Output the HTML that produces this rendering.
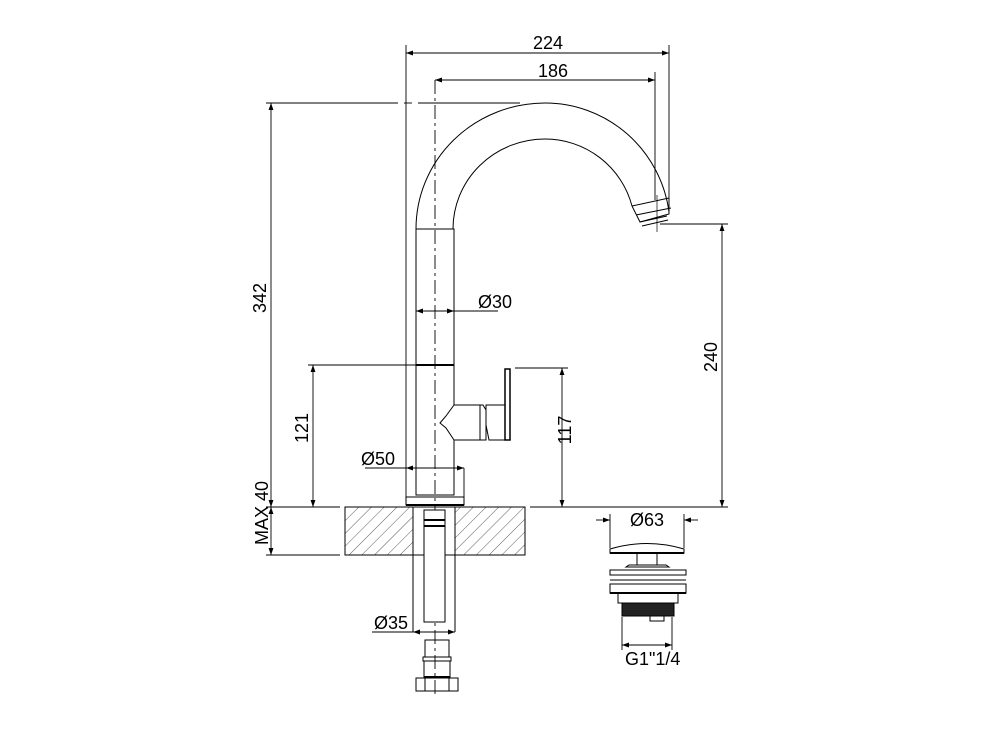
<!DOCTYPE html>
<html><head><style>html,body{margin:0;padding:0;background:#fff}svg{display:block}</style></head>
<body>
<svg width="1000" height="750" viewBox="0 0 1000 750" xmlns="http://www.w3.org/2000/svg" font-family="Liberation Sans, sans-serif">
<defs>
<marker id="a" viewBox="0 0 10 10" refX="10" refY="5" markerWidth="9" markerHeight="7" orient="auto-start-reverse" markerUnits="userSpaceOnUse"><path d="M0,1.5 L10,5 L0,8.5z" fill="#000"/></marker>
<pattern id="h" width="9" height="9" patternUnits="userSpaceOnUse" patternTransform="rotate(45)"><line x1="0" y1="0" x2="0" y2="9" stroke="#333" stroke-width="0.8"/></pattern>
</defs>
<g fill="none" stroke="#000" stroke-width="1">
<!-- spout arcs -->
<path d="M416,229 A129,126 0 0 1 545,103 A125,126 0 0 1 669,212"/>
<path d="M453,229 A92,90 0 0 1 545,139 A90,90 0 0 1 632,206"/>
<path d="M632,206 L669,198 M636,215 L671,208 M632,206 L640,222 L669,214 L669,198"/>
<path d="M640,222 L667,216 M642,226 L668,220"/>
<line x1="657" y1="195" x2="657" y2="232" stroke-width="0.7"/>
<!-- body tube -->
<rect x="416" y="229" width="38" height="266"/>
<line x1="416" y1="365" x2="454" y2="365" stroke-width="2"/>
<!-- center line -->
<line x1="435" y1="80" x2="435" y2="695" stroke-dasharray="14,4,3,4" stroke-width="0.9"/>
<!-- cartridge -->
<path d="M454,405 L480,405 L480,440 L454,440 L446,428 L440,423 L446,416 Z" fill="#fff"/>
<path d="M480,405 L483,405 L486,410 L486,440 L480,440 Z"/>
<path d="M486,405 L506,405 L506,440 L489,440 L486,425 Z"/>
<rect x="505" y="369" width="5" height="71" fill="#fff" stroke-width="1.5"/>
<!-- base plate -->
<rect x="406" y="497" width="58" height="8"/>
<line x1="406" y1="505" x2="464" y2="505" stroke-width="2"/>
<!-- counter -->
<rect x="345" y="507" width="68" height="48" fill="url(#h)"/>
<rect x="455" y="507" width="70" height="48" fill="url(#h)"/>
<rect x="345" y="507" width="180" height="48"/>
<!-- pipe -->
<line x1="413" y1="507" x2="413" y2="632"/>
<line x1="455" y1="507" x2="455" y2="632"/>
<rect x="424" y="510" width="21" height="112" fill="#fff"/>
<line x1="424" y1="520" x2="445" y2="520" stroke-width="2"/>
<line x1="424" y1="526" x2="445" y2="526" stroke-width="2"/>
<!-- lower connector -->
<rect x="425" y="640" width="24" height="17"/>
<rect x="423" y="657" width="28" height="4"/>
<rect x="424" y="661" width="26" height="16"/>
<line x1="424" y1="677" x2="450" y2="677" stroke-width="2"/>
<rect x="416" y="678" width="42" height="13"/>
<line x1="425" y1="678" x2="425" y2="691"/><line x1="449" y1="678" x2="449" y2="691"/>
<!-- drain -->
<path d="M610,549 Q647,538 684,549 L684,553 L610,553 Z"/>
<line x1="610" y1="553" x2="684" y2="553" stroke-width="2"/>
<rect x="637" y="553" width="20" height="12"/>
<path d="M629,565 L666,565 L669,567 L626,567 Z"/>
<path d="M610,570 L686,570 L686,575 L610,575 Z"/>
<path d="M613,575 L683,575 M610,580 L686,580 M612,584 L684,584"/>
<rect x="610" y="584" width="76" height="9"/>
<line x1="610" y1="593" x2="686" y2="593" stroke-width="2"/>
<rect x="618" y="593" width="60" height="10"/>
<rect x="622" y="603" width="52" height="13" fill="#222"/>
<rect x="650" y="616" width="14" height="5"/>
<!-- dimensions -->
<g stroke-width="0.9">
<line x1="406" y1="45" x2="406" y2="497"/>
<line x1="669" y1="45" x2="669" y2="198"/>
<line x1="406" y1="53" x2="669" y2="53" marker-start="url(#a)" marker-end="url(#a)"/>
<line x1="655" y1="72" x2="655" y2="200"/>
<line x1="435" y1="80" x2="655" y2="80" marker-start="url(#a)" marker-end="url(#a)"/>
<line x1="266" y1="103" x2="398" y2="103"/><line x1="404" y1="103" x2="412" y2="103"/><line x1="418" y1="103" x2="520" y2="103"/>
<line x1="271" y1="103" x2="271" y2="507" marker-start="url(#a)" marker-end="url(#a)"/>
<line x1="308" y1="365" x2="416" y2="365"/>
<line x1="313" y1="365" x2="313" y2="507" marker-start="url(#a)" marker-end="url(#a)"/>
<line x1="266" y1="507" x2="340" y2="507"/>
<line x1="266" y1="555" x2="340" y2="555"/>
<line x1="271" y1="507" x2="271" y2="555" marker-start="url(#a)" marker-end="url(#a)"/>
<line x1="530" y1="507" x2="728" y2="507"/>
<line x1="515" y1="368" x2="568" y2="368"/>
<line x1="562" y1="368" x2="562" y2="507" marker-start="url(#a)" marker-end="url(#a)"/>
<line x1="660" y1="224" x2="728" y2="224"/>
<line x1="722" y1="224" x2="722" y2="507" marker-start="url(#a)" marker-end="url(#a)"/>
<line x1="416" y1="311" x2="498" y2="311" marker-start="url(#a)"/>
<line x1="436" y1="311" x2="454" y2="311" marker-end="url(#a)"/>
<line x1="464" y1="468" x2="464" y2="497"/>
<line x1="406" y1="468" x2="464" y2="468" marker-start="url(#a)" marker-end="url(#a)"/>
<line x1="365" y1="468" x2="406" y2="468"/>
<line x1="413" y1="632" x2="455" y2="632" marker-start="url(#a)" marker-end="url(#a)"/>
<line x1="372" y1="632" x2="413" y2="632"/>
<line x1="610" y1="514" x2="610" y2="548"/><line x1="684" y1="514" x2="684" y2="548"/>
<line x1="596" y1="520" x2="610" y2="520" marker-end="url(#a)"/>
<line x1="698" y1="520" x2="684" y2="520" marker-end="url(#a)"/>
<line x1="622" y1="617" x2="622" y2="650"/><line x1="672" y1="617" x2="672" y2="650"/>
<line x1="622" y1="645" x2="672" y2="645" marker-start="url(#a)" marker-end="url(#a)"/>
</g>
</g>
<g font-size="18" fill="#000">
<text x="548" y="49" text-anchor="middle">224</text>
<text x="553" y="77" text-anchor="middle">186</text>
<text x="478" y="308">Ø30</text>
<text x="361" y="465">Ø50</text>
<text x="374" y="629">Ø35</text>
<text x="630" y="526">Ø63</text>
<text x="625" y="665">G1"1/4</text>
<text transform="translate(266,298) rotate(-90)" text-anchor="middle">342</text>
<text transform="translate(308,428) rotate(-90)" text-anchor="middle">121</text>
<text transform="translate(268,513) rotate(-90)" text-anchor="middle">MAX 40</text>
<text transform="translate(571,430) rotate(-90)" text-anchor="middle">117</text>
<text transform="translate(717,357) rotate(-90)" text-anchor="middle">240</text>
</g>
</svg>
</body></html>
